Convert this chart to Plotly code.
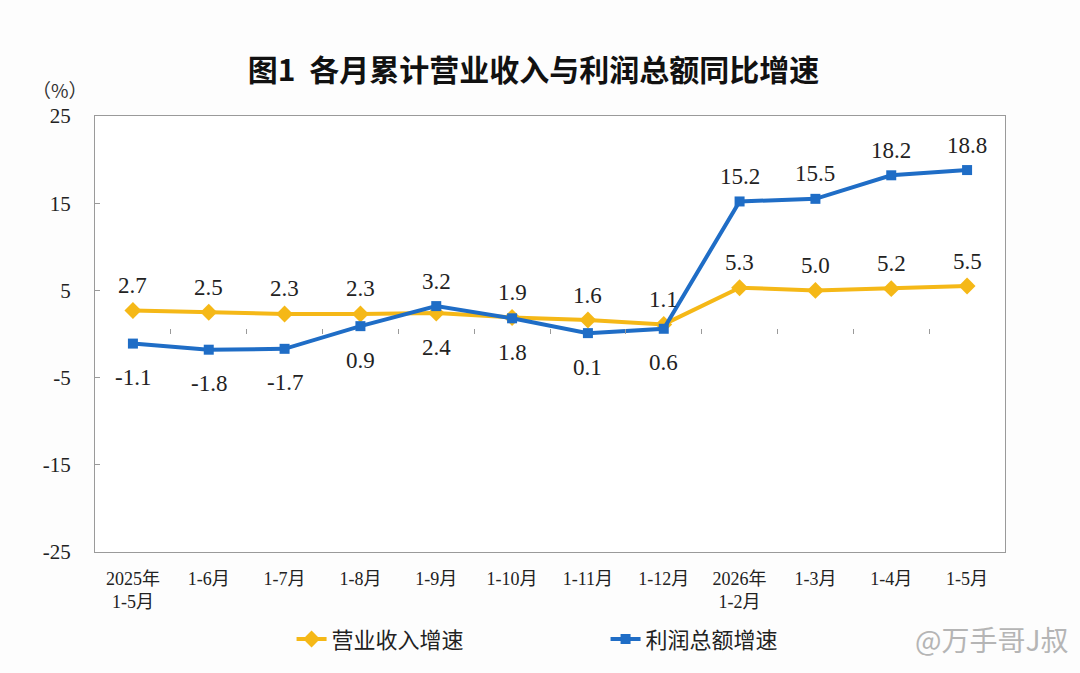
import plotly.graph_objects as go

categories = ["2025年<br>1-5月", "1-6月", "1-7月", "1-8月", "1-9月", "1-10月",
              "1-11月", "1-12月", "2026年<br>1-2月", "1-3月", "1-4月", "1-5月"]
revenue = [2.7, 2.5, 2.3, 2.3, 2.4, 1.9, 1.6, 1.1, 5.3, 5.0, 5.2, 5.5]
profit = [-1.1, -1.8, -1.7, 0.9, 3.2, 1.8, 0.1, 0.6, 15.2, 15.5, 18.2, 18.8]
# label side: +1 above, -1 below
revenue_side = [1, 1, 1, 1, -1, 1, 1, 1, 1, 1, 1, 1]
profit_side = [-1, -1, -1, -1, 1, -1, -1, -1, 1, 1, 1, 1]
y_ticks = [-25, -15, -5, 5, 15, 25]

GOLD = "#F5B817"
BLUE = "#1F6DC6"
SERIF = "Liberation Serif, Noto Sans CJK SC, serif"

fig = go.Figure()
fig.add_trace(go.Scatter(
    x=categories, y=revenue, name="营业收入增速", mode="lines+markers",
    line=dict(color=GOLD, width=4),
    marker=dict(symbol="diamond", size=13, color=GOLD),
))
fig.add_trace(go.Scatter(
    x=categories, y=profit, name="利润总额增速", mode="lines+markers",
    line=dict(color=BLUE, width=4),
    marker=dict(symbol="square", size=10, color=BLUE),
))
# invisible trace carrying the boundary ticks drawn at y = 0
fig.add_trace(go.Scatter(
    x=categories, y=revenue, xaxis="x2", mode="none",
    showlegend=False, hoverinfo="skip",
))

annotations = []
for series, sides in ((revenue, revenue_side), (profit, profit_side)):
    for c, v, s in zip(categories, series, sides):
        annotations.append(dict(
            x=c, y=v, xref="x", yref="y", text=f"{v:.1f}", showarrow=False,
            yshift=25 if s > 0 else -34,
            font=dict(family=SERIF, size=23, color="#222222"),
        ))
annotations.append(dict(
    x=-0.071, y=1.025, xref="paper", yref="paper", yanchor="bottom",
    text="（%）", showarrow=False,
    font=dict(family="Noto Sans CJK SC", size=19, color="#333333"),
))
annotations.append(dict(
    x=1.071, y=-0.2, xref="paper", yref="paper", xanchor="right", yanchor="middle",
    text="@万手哥J叔", showarrow=False,
    font=dict(family="Noto Sans CJK SC", size=28, color="#b5b5b5"),
))

fig.update_layout(
    width=1080, height=673,
    paper_bgcolor="#fdfdfd", plot_bgcolor="#ffffff",
    margin=dict(l=95, r=75, t=116, b=121),
    title=dict(
        text="<b>图1  各月累计营业收入与利润总额同比增速</b>",
        x=0.494, xref="container", xanchor="center",
        y=1 - 70 / 673, yref="container", yanchor="middle",
        font=dict(family="Noto Sans CJK SC", size=30, color="#111111"),
    ),
    xaxis=dict(
        type="category", range=[-0.5, 11.5],
        showline=True, mirror=True, linecolor="#9a9a9a", linewidth=1,
        ticks="", showgrid=False, zeroline=False,
        tickfont=dict(family=SERIF, size=18, color="#222222"),
        ticklabelstandoff=10,
    ),
    xaxis2=dict(
        type="category", range=[-0.5, 11.5], overlaying="x", anchor="free",
        position=0.5, side="bottom", showline=False, showgrid=False,
        zeroline=False, showticklabels=False, ticks="inside",
        tickson="boundaries", ticklen=5, tickcolor="#9a9a9a", tickwidth=1,
    ),
    yaxis=dict(
        range=[-25, 25], tickvals=y_ticks, ticktext=[str(t) for t in y_ticks],
        showline=True, mirror=True, linecolor="#9a9a9a", linewidth=1,
        ticks="inside", ticklen=5, tickcolor="#9a9a9a",
        showgrid=False, zeroline=False,
        tickfont=dict(family=SERIF, size=21, color="#222222"),
        ticklabelstandoff=19,
    ),
    legend=dict(
        orientation="h", x=0.216, xanchor="left", y=-0.2, yanchor="middle",
        entrywidth=269, entrywidthmode="pixels",
        font=dict(family="Noto Sans CJK SC", size=22, color="#222222"),
        bgcolor="rgba(0,0,0,0)",
    ),
    annotations=annotations,
    showlegend=True,
)

fig.write_html("out.html")
